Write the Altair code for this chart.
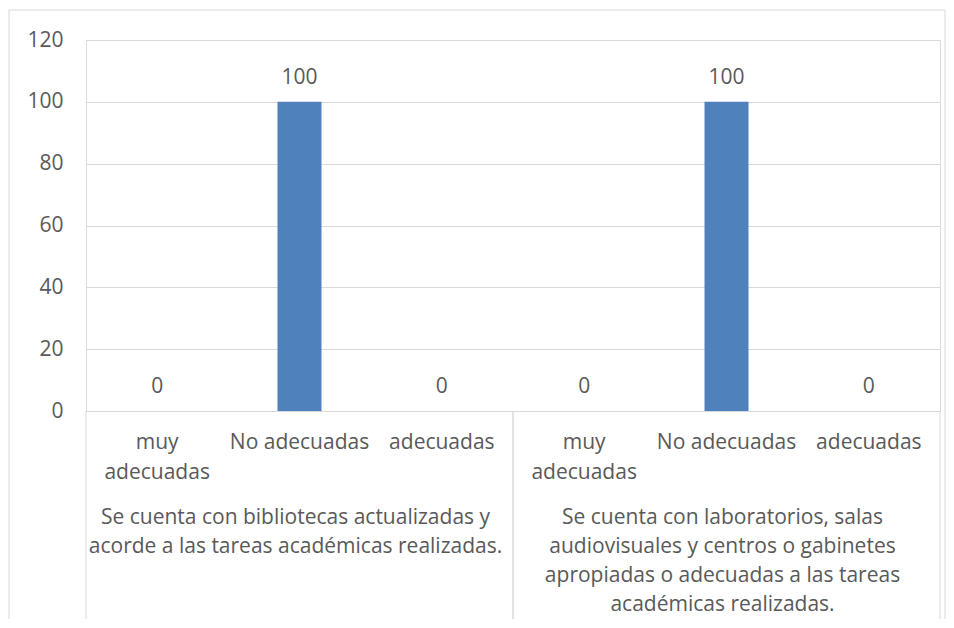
import altair as alt
import pandas as pd

# ---- data ----
categories = ["muy adecuadas", "No adecuadas", "adecuadas"]
group_lines = [
    ["Se cuenta con bibliotecas actualizadas y",
     "acorde a las tareas académicas realizadas."],
    ["Se cuenta con laboratorios, salas",
     "audiovisuales y centros o gabinetes",
     "apropiadas o adecuadas a las tareas",
     "académicas realizadas."],
]
values_g1 = [0, 100, 0]
values_g2 = [0, 100, 0]
y_ticks = [0, 20, 40, 60, 80, 100, 120]

all_values = [values_g1, values_g2]
rows = []
keys = []
for gi, vals in enumerate(all_values):
    for cat, v in zip(categories, vals):
        k = f"{gi}|{cat}"
        keys.append(k)
        rows.append({"key": k, "group": gi, "cat": cat, "value": v})
df = pd.DataFrame(rows)

gdf = pd.DataFrame({
    "key": [f"{gi}|{categories[1]}" for gi in range(len(group_lines))],
    "group": list(range(len(group_lines))),
    "label": ["\n".join(l) for l in group_lines],
})

FONT = "Open Sans"
FS = 21
TXT = "#595959"
GRID = "#d9d9d9"
BAR = "#4f81bd"

W, H = 854, 371
step_frac = 44 / (W / 6)
p_in = 1 - step_frac

xscale = alt.Scale(domain=keys, paddingInner=p_in, paddingOuter=p_in / 2)
yscale = alt.Scale(domain=[0, 120], nice=False)

label_expr = ("split(datum.value, '|')[1] == 'muy adecuadas' ? ['muy', 'adecuadas'] : "
              "split(datum.value, '|')[1]")

base = alt.Chart(df)

bars = base.mark_bar(color=BAR).encode(
    x=alt.X("key:N", scale=xscale, title=None,
            axis=alt.Axis(labelExpr=label_expr, labelAngle=0, ticks=False, tickSize=0,
                          domain=True, domainColor=GRID, labelPadding=20,
                          labelFontSize=FS, labelColor=TXT, labelFont=FONT,
                          labelLineHeight=30, labelLimit=300, grid=False)),
    y=alt.Y("value:Q", scale=yscale, title=None,
            axis=alt.Axis(values=y_ticks, ticks=False, domain=False, grid=True,
                          gridColor=GRID, labelPadding=23, labelFontSize=FS,
                          labelColor=TXT, labelFont=FONT)),
)

vlabels = base.mark_text(baseline="alphabetic", dy=-18, fontSize=FS, color=TXT, font=FONT).encode(
    x=alt.X("key:N", scale=xscale),
    y=alt.Y("value:Q", scale=yscale),
    text=alt.Text("value:Q"),
)

glabels = alt.Chart(gdf).mark_text(baseline="top", dy=96, dx=-4, fontSize=FS, color=TXT,
                                   font=FONT, lineBreak="\n", lineHeight=29).encode(
    x=alt.X("key:N", scale=xscale),
    y=alt.datum(0, scale=yscale),
    text="label:N",
)

main = alt.layer(bars, vlabels, glabels)

sep_base = alt.Chart(gdf)
sep_scale = alt.Scale(paddingInner=0, paddingOuter=0)
sep_left = sep_base.mark_rule(color=GRID, strokeWidth=1).encode(
    x=alt.X("group:O", scale=sep_scale, axis=None, bandPosition=0),
    y=alt.datum(0),
    y2=alt.value(700),
)
sep_right = sep_base.mark_rule(color=GRID, strokeWidth=1).encode(
    x=alt.X("group:O", scale=sep_scale, axis=None, bandPosition=1),
    y=alt.datum(0),
    y2=alt.value(700),
)
seps = alt.layer(sep_left, sep_right)

frame = alt.Chart(pd.DataFrame({"f": [0]})).mark_rect(
    fillOpacity=0, stroke=GRID, strokeWidth=1
).encode(
    x=alt.value(-77), x2=alt.value(W + 5), y=alt.value(-30), y2=alt.value(800)
)

chart = alt.layer(main, seps, frame).resolve_scale(x="independent").properties(
    width=W, height=H,
    autosize=alt.AutoSizeParams(type="none"),
    padding={"left": 78, "top": 32, "right": 6, "bottom": 208},
).configure_view(stroke=None).configure(font=FONT)

chart.save("out.html", embed_options={"renderer": "svg", "actions": False})
